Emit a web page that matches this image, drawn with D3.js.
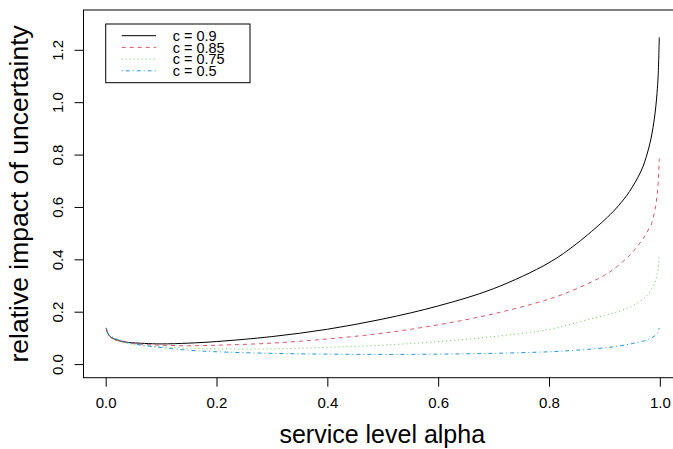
<!DOCTYPE html>
<html><head><meta charset="utf-8">
<script src="https://cdn.jsdelivr.net/npm/d3@7"></script>
<style>body{margin:0;background:#fff}text{font-family:"Liberation Sans",Arial,sans-serif}</style>
</head><body>
<svg id="chart" width="673" height="449"></svg>
<script>
// service level alpha
const alpha = [0.001,0.003,0.005,0.01,0.02,0.04,0.07,0.1,0.15,0.2,0.3,0.4,0.5,0.6,0.7,0.8,0.85,0.9,0.92,0.94,0.95,0.96,0.97,0.975,0.98,0.985,0.99,0.993,0.995,0.997,0.999];
// relative impact of uncertainty, one array per c
const c90 = [0.138,0.122,0.113,0.102,0.092,0.083,0.079,0.077,0.080,0.086,0.105,0.133,0.172,0.222,0.288,0.387,0.460,0.550,0.592,0.643,0.675,0.711,0.756,0.788,0.825,0.871,0.935,0.989,1.036,1.103,1.248];
const c85 = [0.138,0.121,0.112,0.101,0.091,0.081,0.075,0.072,0.070,0.072,0.080,0.096,0.118,0.150,0.192,0.248,0.288,0.339,0.368,0.404,0.425,0.451,0.479,0.496,0.516,0.535,0.577,0.610,0.645,0.690,0.785];
const c75 = [0.138,0.120,0.111,0.099,0.089,0.078,0.070,0.066,0.061,0.058,0.058,0.064,0.072,0.086,0.105,0.132,0.158,0.186,0.197,0.212,0.222,0.234,0.248,0.258,0.270,0.288,0.307,0.325,0.340,0.365,0.418];
const c50 = [0.138,0.123,0.115,0.107,0.095,0.082,0.071,0.063,0.053,0.047,0.041,0.038,0.037,0.038,0.041,0.047,0.053,0.062,0.067,0.074,0.078,0.083,0.088,0.091,0.095,0.100,0.107,0.112,0.115,0.123,0.138];
const seriesLabels = ["c = 0.9","c = 0.85","c = 0.75","c = 0.5"];
const xTicks = [0,0.2,0.4,0.6,0.8,1.0];
const yTicks = [0,0.2,0.4,0.6,0.8,1.0,1.2];
const xTitle = "service level alpha";
const yTitle = "relative impact of uncertainty";

const colors = ["#000000","#DF536B","#61D04F","#2297E6"];
const dashes = [null,"4,4","1,3","1,3,4,3"];
const seriesValues = [c90,c85,c75,c50];

const L = 83.5, R = 682, T = 10, B = 377.7;
const svg = d3.select("#chart");
const x = d3.scaleLinear().domain([-0.04,1.04]).range([L,R]);
const y = d3.scaleLinear().domain([-0.052,1.352]).range([B,T]);

// series
const line = d3.line().x(d=>x(d[0])).y(d=>y(d[1])).curve(d3.curveCatmullRom.alpha(0.5));
seriesValues.forEach((vals,i)=>{
  svg.append("path")
    .datum(alpha.map((a,j)=>[a,vals[j]]))
    .attr("d",line)
    .attr("fill","none")
    .attr("stroke",colors[i])
    .attr("stroke-width",1)
    .attr("stroke-dasharray",dashes[i]);
});

// box
svg.append("rect").attr("x",L).attr("y",T).attr("width",R-L).attr("height",B-T)
  .attr("fill","none").attr("stroke","#000").attr("stroke-width",1);

// x axis
const gx = svg.append("g").attr("transform",`translate(0,${B})`)
  .call(d3.axisBottom(x).tickValues(xTicks).tickFormat(d3.format(".1f")).tickSize(9).tickPadding(11));
gx.select(".domain").remove();
gx.selectAll("line").attr("stroke","#000");
gx.selectAll("text").attr("font-size",15).attr("fill","#000").style("font-family","Liberation Sans, Arial, sans-serif");

// y axis
const gy = svg.append("g").attr("transform",`translate(${L},0)`)
  .call(d3.axisLeft(y).tickValues(yTicks).tickFormat(d3.format(".1f")).tickSize(9));
gy.select(".domain").remove();
gy.selectAll("line").attr("stroke","#000");
gy.selectAll("text").attr("font-size",15).attr("fill","#000")
  .attr("text-anchor","middle").attr("x",0).attr("dy",null).attr("y",-21)
  .attr("transform","rotate(-90)").style("font-family","Liberation Sans, Arial, sans-serif");

// titles
svg.append("text").attr("x",(L+R)/2 - 0.5).attr("y",443).attr("text-anchor","middle")
  .attr("font-size",25).attr("fill","#000").text(xTitle);
svg.append("text").attr("transform",`translate(28,${(T+B)/2}) rotate(-90)`).attr("text-anchor","middle")
  .attr("font-size",26.5).attr("fill","#000").text(yTitle);

// legend
const lg = svg.append("g");
lg.append("rect").attr("x",105.7).attr("y",24).attr("width",144.3).attr("height",58.7)
  .attr("fill","#fff").attr("stroke","#000").attr("stroke-width",1);
seriesLabels.forEach((s,i)=>{
  const yy = 35.7 + i*11.7;
  lg.append("line").attr("x1",121.7).attr("x2",156).attr("y1",yy).attr("y2",yy)
    .attr("stroke",colors[i]).attr("stroke-dasharray",dashes[i]);
  lg.append("text").attr("x",172.7).attr("y",yy).attr("dy","0.36em").attr("font-size",14.5)
    .attr("fill","#000").text(s);
});
</script>
</body></html>
